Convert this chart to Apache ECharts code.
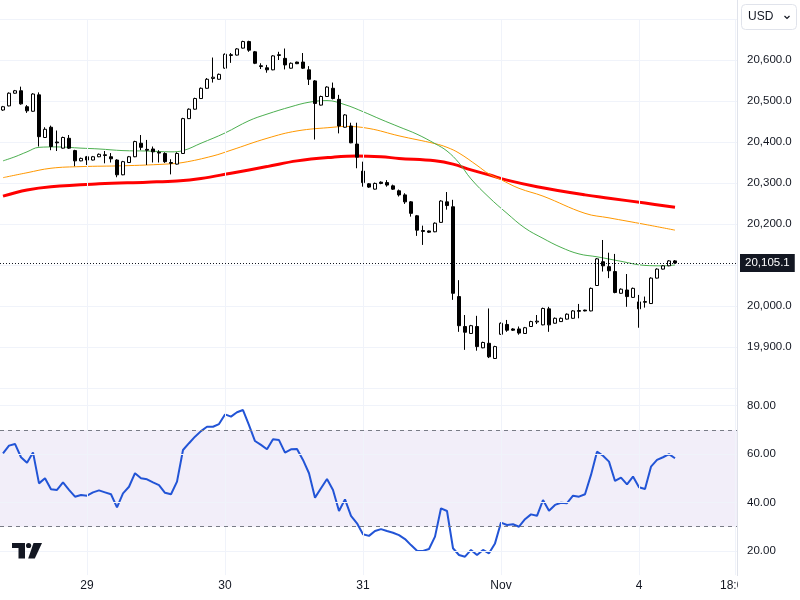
<!DOCTYPE html>
<html>
<head>
<meta charset="utf-8">
<script src="https://cdn.jsdelivr.net/npm/echarts@6/dist/echarts.min.js"></script>
<style>html,body{margin:0;padding:0;background:#fff;}#c{width:800px;height:600px;}</style>
</head>
<body>
<div id="c"></div>
<script>
const categories = [
'10-28 11:00','10-28 12:00','10-28 13:00','10-28 14:00','10-28 15:00','10-28 16:00','10-28 17:00','10-28 18:00','10-28 19:00','10-28 20:00','10-28 21:00','10-28 22:00','10-28 23:00','10-29 00:00',
'10-29 02:00','10-29 03:00','10-29 04:00','10-29 05:00','10-29 06:00','10-29 07:00','10-29 08:00','10-29 09:00','10-29 10:00','10-29 11:00','10-29 12:00','10-29 13:00','10-29 14:00','10-29 15:00','10-29 16:00','10-29 17:00','10-29 18:00','10-29 19:00','10-29 20:00','10-29 21:00','10-29 22:00','10-29 23:00','10-30 00:00',
'10-30 02:00','10-30 03:00','10-30 04:00','10-30 05:00','10-30 06:00','10-30 07:00','10-30 08:00','10-30 09:00','10-30 10:00','10-30 11:00','10-30 12:00','10-30 13:00','10-30 14:00','10-30 15:00','10-30 16:00','10-30 17:00','10-30 18:00','10-30 19:00','10-30 20:00','10-30 21:00','10-30 22:00','10-30 23:00','10-31 00:00',
'10-31 02:00','10-31 03:00','10-31 04:00','10-31 05:00','10-31 06:00','10-31 07:00','10-31 08:00','10-31 09:00','10-31 10:00','10-31 11:00','10-31 12:00','10-31 13:00','10-31 14:00','10-31 15:00','10-31 16:00','10-31 17:00','10-31 18:00','10-31 19:00','10-31 20:00','10-31 21:00','10-31 22:00','10-31 23:00','11-01 00:00',
'11-01 02:00','11-01 03:00','11-01 04:00','11-01 05:00','11-01 06:00','11-01 07:00','11-01 08:00','11-01 09:00','11-01 10:00','11-01 11:00','11-01 12:00','11-01 13:00','11-01 14:00','11-01 15:00','11-01 16:00','11-01 17:00','11-01 18:00','11-01 19:00','11-01 20:00','11-01 21:00','11-01 22:00','11-01 23:00','11-02 00:00',
'11-04 02:00','11-04 03:00','11-04 04:00','11-04 05:00','11-04 06:00','11-04 07:00','11-04 08:00','11-04 09:00','11-04 10:00','11-04 11:00','11-04 12:00','11-04 13:00','11-04 14:00','11-04 15:00','11-04 16:00','11-04 17:00','11-04 18:00'
];
const tickCats = ['10-29 02:00','10-30 02:00','10-31 02:00','11-01 02:00','11-04 02:00','11-04 18:00'];
const tickLabels = ['29','30','31','Nov','4','18:00'];

// [open, close, low, high]
const candles = [
[20478,20486,20476,20488],[20488,20519,20487,20521],[20519,20525,20518,20527],[20525,20493,20491,20535],[20486,20476,20471,20490],
[20475,20517,20474,20519],[20515,20413,20389,20521],[20411,20431,20410,20436],[20436,20389,20380,20440],[20400,20398,20378,20428],
[20385,20411,20384,20413],[20409,20385,20383,20417],[20379,20354,20341,20381],[20354,20360,20353,20362],[20364,20356,20344,20366],
[20356,20364,20355,20366],[20364,20370,20363,20372],[20367,20369,20348,20378],[20364,20359,20350,20373],[20356,20320,20314,20358],
[20320,20352,20319,20354],[20350,20364,20349,20366],[20364,20401,20363,20403],[20397,20387,20380,20417],[20382,20380,20344,20405],
[20383,20376,20350,20389],[20375,20373,20350,20380],[20372,20352,20349,20375],[20350,20348,20321,20358],[20346,20372,20345,20375],
[20372,20457,20371,20459],[20457,20480,20456,20482],[20480,20506,20479,20508],[20506,20531,20505,20533],[20531,20553,20530,20556],
[20555,20558,20545,20606],[20553,20565,20552,20567],[20580,20614,20579,20616],[20611,20613,20593,20617],[20612,20627,20611,20629],
[20629,20645,20628,20647],[20645,20624,20620,20647],[20620,20592,20590,20622],[20586,20584,20578,20592],[20581,20576,20569,20588],
[20576,20610,20575,20612],[20611,20613,20600,20620],[20604,20588,20577,20628],[20580,20592,20579,20594],[20595,20591,20590,20596],
[20595,20580,20578,20617],[20576,20553,20539,20585],[20549,20494,20406,20551],[20490,20511,20489,20513],[20511,20534,20510,20536],
[20531,20506,20504,20545],[20504,20439,20421,20515],[20436,20466,20435,20468],[20439,20398,20397,20447],[20395,20363,20336,20447],
[20329,20301,20291,20352],[20298,20290,20288,20300],[20285,20299,20284,20301],[20302,20299,20297,20304],[20301,20295,20291,20307],
[20293,20285,20283,20296],[20281,20271,20267,20284],[20271,20254,20249,20275],[20254,20226,20218,20256],[20220,20185,20171,20222],
[20184,20182,20149,20196],[20183,20180,20178,20184],[20181,20202,20180,20204],[20204,20256,20203,20258],[20254,20245,20235,20278],
[20242,20031,20015,20259],[20023,19952,19937,20063],[19950,19936,19893,19978],[19933,19952,19932,19954],[19950,19901,19891,19976],
[19898,19911,19897,19913],[19909,19876,19873,19994],[19872,19901,19871,19903],[19931,19958,19930,19960],[19955,19941,19937,19966],
[19944,19941,19939,19946],[19944,19934,19930,19950],[19933,19947,19932,19949],[19950,19962,19949,19964],[19961,19963,19956,19978],
[19954,19994,19953,19996],[19993,19954,19937,19998],[19958,19970,19957,19972],[19962,19970,19961,19972],[19968,19980,19967,19982],
[19970,19988,19969,19990],[19987,19989,19970,20005],[19990,19988,19987,19991],[19988,20043,19987,20045],[20050,20115,20049,20117],
[20108,20098,20084,20161],[20096,20086,20068,20130],[20084,20033,20031,20127],[20031,20041,20030,20043],[20039,20023,19998,20078],
[20021,20043,20020,20045],[20010,19993,19947,20027],[20009,20011,19996,20023],[20006,20068,20005,20070],[20068,20090,20067,20092],
[20090,20098,20089,20100],[20098,20110,20097,20112],[20110,20105.1,20103,20112]
];

// moving averages at [candle index, value]
const maGreen = [[0,20354],[2,20364],[4,20376],[6,20387],[9,20388],[13,20385],[16,20383],[20,20379],[24,20378],[28,20376],[30,20379],[33,20397],[37,20422],[41,20452],[44,20468],[48,20486],[51,20497],[54,20501],[57,20491],[60,20474],[63,20455],[66,20437],[69,20419],[72,20396],[74,20378],[76,20349],[78,20310],[81,20265],[84,20226],[87,20190],[90,20165],[93,20143],[96,20127],[99,20120],[103,20109],[107,20099],[110,20098],[112,20100]];
const maOrange = [[0,20313],[4,20325],[8,20336],[13,20340],[20,20342],[27,20346],[30,20350],[35,20366],[38,20380],[44,20409],[49,20427],[55,20436],[57,20438],[61,20433],[66,20415],[72,20396],[74,20387],[76,20373],[79,20343],[81,20322],[83,20308],[86,20287],[90,20268],[97,20226],[101,20215],[107,20199],[112,20185]];
const maRed = [[0,20268],[4,20283],[8,20291],[16,20298],[24,20302],[29,20305],[33,20311],[38,20324],[44,20340],[49,20354],[55,20363],[59,20366],[63,20364],[66,20360],[72,20354],[75,20346],[78,20332],[81,20320],[84,20307],[89,20291],[97,20271],[101,20263],[107,20251],[112,20241]];

const rsi = [
60.3,63.5,64.2,58.7,56.4,60.7,47.9,50,45.5,45.2,
48.3,45.2,42.4,43.1,42.8,44.2,45,44.2,43.4,38,
43.8,46.5,52.1,50,49.6,48.3,47.2,44,43.4,48.6,
61.7,64.5,67.2,69.5,71.3,71.3,72.4,76.4,75.5,77.3,
78.2,72,65.4,63.8,62,66.1,65.8,60.6,62,62.1,
57.6,52.1,42,45.9,49.7,45.2,36.5,41.3,34.5,31.4,
26.9,26.2,28.2,29,28.2,27.5,26.5,24.9,22.4,20.1,
20,20.8,25.9,37.6,36.5,21.1,18.3,17.6,20.4,18.3,
20.4,19,23.1,31.7,30.7,31,30,33.1,35.1,34.5,
41,36.6,39,39.9,39.7,42.8,42.4,43.4,51.4,61,
59.3,56.9,48.9,50.3,47.5,50.7,46.3,45.6,54.8,57.6,
58.7,60,58.3
];
const rsiBands = [30, 70];
const rsiGrid = [20, 40, 60, 80];
const priceTicksHidden = [20700, 19800];

const FONT = 'Liberation Sans';
const TXT = '#131722';
const GRID = '#f0f3fa';
const lastClose = candles[candles.length - 1][1];
const fmtPrice = v => v.toLocaleString('en-US', {minimumFractionDigits: 1, maximumFractionDigits: 1});
const vLines = tickCats.map(c => ({xAxis: c}));

const chart = echarts.init(document.getElementById('c'), null, {renderer: 'canvas'});

const xCommon = {
  type: 'category', data: categories, boundaryGap: true,
  axisLine: {show: false}, axisTick: {show: false}, splitLine: {show: false}
};
const gridLineSeries = (xi) => ({
  type: 'line', xAxisIndex: xi, yAxisIndex: xi, data: [], z: 1, silent: true,
  markLine: {symbol: 'none', silent: true, label: {show: false},
    lineStyle: {color: GRID, type: 'solid', width: 1}, data: vLines}
});

chart.setOption({
  animation: false,
  backgroundColor: '#ffffff',
  grid: [
    {left: 0, right: 62, top: 19, height: 369},
    {left: 0, right: 62, top: 381.5, height: 193.6}
  ],
  xAxis: [
    Object.assign({}, xCommon, {gridIndex: 0, axisLabel: {show: false}}),
    Object.assign({}, xCommon, {gridIndex: 1, axisLabel: {
      show: true, interval: (i, v) => tickCats.includes(v),
      formatter: v => tickLabels[tickCats.indexOf(v)] || '',
      color: TXT, fontSize: 12, fontFamily: FONT, margin: 5
    }})
  ],
  yAxis: [
    {gridIndex: 0, type: 'value', position: 'right', min: 19800, max: 20700, interval: 100,
     axisLine: {show: false}, axisTick: {show: false},
     splitLine: {show: true, lineStyle: {color: GRID}},
     axisLabel: {color: TXT, fontSize: 11.5, fontFamily: FONT, margin: 9,
       formatter: v => priceTicksHidden.includes(v) ? '' : fmtPrice(v)}},
    {gridIndex: 1, type: 'value', position: 'right', min: 10, max: 90, interval: 10,
     axisLine: {show: false}, axisTick: {show: false}, splitLine: {show: false},
     axisLabel: {color: TXT, fontSize: 11.5, fontFamily: FONT, margin: 9,
       formatter: v => rsiGrid.includes(v) ? v.toFixed(2) : ''}}
  ],
  series: [
    gridLineSeries(0),
    gridLineSeries(1),
    {type: 'line', xAxisIndex: 0, yAxisIndex: 0, data: maRed, smooth: 0.4, showSymbol: false,
     lineStyle: {color: '#ff0000', width: 3}, z: 2, silent: true},
    {type: 'line', xAxisIndex: 0, yAxisIndex: 0, data: maOrange, smooth: 0.4, showSymbol: false,
     lineStyle: {color: '#ff9800', width: 1}, z: 2, silent: true},
    {type: 'line', xAxisIndex: 0, yAxisIndex: 0, data: maGreen, smooth: 0.4, showSymbol: false,
     lineStyle: {color: '#4caf50', width: 1}, z: 2, silent: true},
    {type: 'candlestick', xAxisIndex: 0, yAxisIndex: 0, data: candles, barWidth: 4, z: 3,
     itemStyle: {color: '#ffffff', color0: '#000000', borderColor: '#000000', borderColor0: '#000000', borderWidth: 1},
     markLine: {symbol: 'none', silent: true,
       lineStyle: {color: TXT, type: [1, 2], width: 1},
       label: {show: true, position: 'end', formatter: fmtPrice(lastClose), color: '#ffffff',
         backgroundColor: TXT, padding: [3, 5, 3, 5], fontSize: 11.5, fontFamily: FONT, distance: 2},
       data: [{yAxis: lastClose}]}},
    {type: 'line', xAxisIndex: 1, yAxisIndex: 1, data: rsi, showSymbol: false, silent: true,
     lineStyle: {color: '#2254d6', width: 2}, z: 3,
     markArea: {silent: true, itemStyle: {color: 'rgba(126,87,194,0.1)'},
       data: [[{yAxis: rsiBands[0]}, {yAxis: rsiBands[1]}]]},
     markLine: {symbol: 'none', silent: true, label: {show: false},
       data: rsiGrid.map(v => ({yAxis: v, lineStyle: {color: GRID, type: 'solid', width: 1}}))
         .concat(rsiBands.map(v => ({yAxis: v, lineStyle: {color: '#787b86', type: [4, 4], width: 1}})))}}
  ],
  graphic: [
    {type: 'line', shape: {x1: 737.5, y1: 0, x2: 737.5, y2: 576}, style: {stroke: '#e0e3eb', lineWidth: 1}, z: 50},
    {type: 'rect', shape: {x: 738, y: 577, width: 62, height: 23}, style: {fill: '#ffffff'}, z: 60},
    {type: 'rect', shape: {x: 741.5, y: 4.5, width: 55, height: 25, r: 4}, style: {fill: '#ffffff', stroke: '#e0e3eb', lineWidth: 1}, z: 60},
    {type: 'text', x: 748, y: 17, style: {text: 'USD', fill: TXT, font: '12px ' + FONT, verticalAlign: 'middle'}, z: 61},
    {type: 'polyline', shape: {points: [[784.5, 16], [787, 18.5], [789.5, 16]]}, style: {stroke: TXT, lineWidth: 1.2, fill: null}, z: 61},
    {type: 'polygon', shape: {points: [[12, 543], [25, 543], [25, 558.5], [18.5, 558.5], [18.5, 548], [12, 548]]}, style: {fill: TXT}, z: 61},
    {type: 'circle', shape: {cx: 28.6, cy: 545.5, r: 2.6}, style: {fill: TXT}, z: 61},
    {type: 'polygon', shape: {points: [[33.5, 543], [42, 543], [34.8, 558.5], [28.2, 558.5]]}, style: {fill: TXT}, z: 61}
  ]
});
</script>
</body>
</html>
